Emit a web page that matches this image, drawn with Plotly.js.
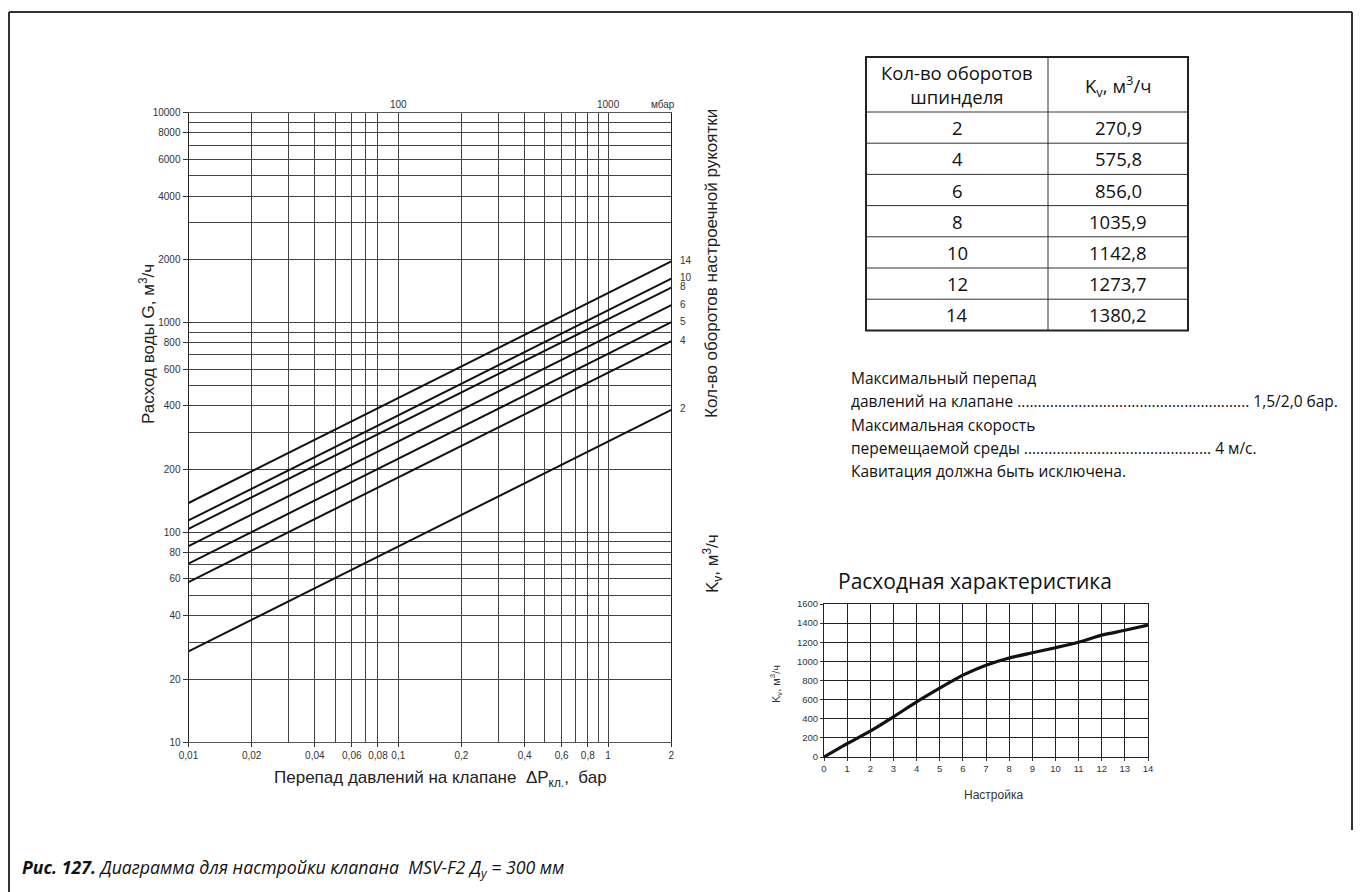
<!DOCTYPE html>
<html>
<head>
<meta charset="utf-8">
<script src="https://cdn.plot.ly/plotly-3.0.1.min.js"></script>
<style>
  html, body { margin: 0; padding: 0; background: #ffffff; }
  #chart { width: 1360px; height: 892px; }
</style>
</head>
<body>
<div id="chart"></div>
<script>
// ---- Main diagram: flow G vs pressure drop, one line per setting ----
const lineLabels = ['14', '10', '8', '6', '5', '4', '2'];
const dpStart = 0.01;              // bar, left end of lines
const dpEnd = 2;                   // bar, right end of lines
const gStart = [138, 114, 104, 86, 71, 58, 27.1];     // m3/h at 0.01 bar
const gEnd   = [1952, 1616, 1465, 1210, 1004, 814, 383]; // m3/h at 2 bar

const xTickVals = [0.01, 0.02, 0.04, 0.06, 0.08, 0.1, 0.2, 0.4, 0.6, 0.8, 1, 2];
const xTickText = ['0,01', '0,02', '0,04', '0,06', '0,08', '0,1', '0,2', '0,4', '0,6', '0,8', '1', '2'];
const xMinorVals = [0.03, 0.05, 0.07, 0.3, 0.5, 0.7, 0.9];
const yTickVals = [10, 20, 40, 60, 80, 100, 200, 400, 600, 800, 1000, 2000, 4000, 6000, 8000, 10000];
const yTickText = ['10', '20', '40', '60', '80', '100', '200', '400', '600', '800', '1000', '2000', '4000', '6000', '8000', '10000'];
const yMinorVals = [30, 50, 70, 90, 300, 500, 700, 900, 3000, 5000, 7000, 9000];

// top mbar scale labels
const mbarVals = [0.1, 1];
const mbarText = ['100', '1000'];

// ---- Table ----
const tableHeader = ['Кол-во оборотов<br>шпинделя', 'K<sub>v</sub>, м<sup>3</sup>/ч'];
const tableTurns = ['2', '4', '6', '8', '10', '12', '14'];
const tableKv = ['270,9', '575,8', '856,0', '1035,9', '1142,8', '1273,7', '1380,2'];

// ---- Small chart: flow characteristic ----
const setting = [0, 1, 2, 3, 4, 5, 6, 7, 8, 9, 10, 11, 12, 13, 14];
const kvCurve = [0, 140, 271, 420, 576, 720, 856, 960, 1036, 1090, 1143, 1200, 1274, 1325, 1380];
const smallXTicks = [0, 1, 2, 3, 4, 5, 6, 7, 8, 9, 10, 11, 12, 13, 14];
const smallYTicks = [0, 200, 400, 600, 800, 1000, 1200, 1400, 1600];

const W = 1360, H = 892;
const px = x => x / W;
const py = y => 1 - y / H;

const sansFont = 'Liberation Sans, Arial, sans-serif';
const textFont = 'Open Sans, Noto Sans, sans-serif';

const traces = [];
lineLabels.forEach((lab, i) => {
  traces.push({
    type: 'scatter', mode: 'lines',
    x: [dpStart, dpEnd], y: [gStart[i], gEnd[i]],
    xaxis: 'x', yaxis: 'y',
    line: { color: '#111', width: 2 },
    hoverinfo: 'skip', showlegend: false
  });
});
traces.push({
  type: 'scatter', mode: 'lines',
  x: setting, y: kvCurve,
  xaxis: 'x2', yaxis: 'y2',
  line: { color: '#111', width: 3.2, shape: 'spline', smoothing: 0.6 },
  hoverinfo: 'skip', showlegend: false
});

const annotations = [];
const shapes = [];

// line labels at the right end
lineLabels.forEach((lab, i) => {
  annotations.push({
    xref: 'x', yref: 'y',
    x: Math.log10(dpEnd), y: Math.log10(gEnd[i]),
    text: lab, showarrow: false,
    xanchor: 'left', yanchor: 'middle', xshift: 7, yshift: 1,
    font: { family: 'Liberation Sans Narrow, Liberation Sans, Arial', size: 10, color: '#333' }
  });
});
// mbar labels on top
mbarVals.forEach((v, i) => {
  annotations.push({
    xref: 'x', yref: 'paper', x: Math.log10(v), y: py(104),
    text: mbarText[i], showarrow: false, xanchor: 'center', yanchor: 'middle',
    font: { family: sansFont, size: 10, color: '#333' }
  });
});
annotations.push({
  xref: 'paper', yref: 'paper', x: px(663), y: py(104), text: 'мбар', showarrow: false,
  xanchor: 'center', yanchor: 'middle', font: { family: sansFont, size: 10, color: '#333' }
});
// axis titles
annotations.push({
  xref: 'paper', yref: 'paper', x: px(147), y: py(344), textangle: -90,
  text: 'Расход воды G, м<sup>3</sup>/ч', showarrow: false,
  xanchor: 'center', yanchor: 'middle', font: { family: sansFont, size: 17, color: '#222' }
});
annotations.push({
  xref: 'paper', yref: 'paper', x: px(440), y: py(779),
  text: 'Перепад давлений на клапане  ΔP<sub>кл.</sub>,  бар', showarrow: false,
  xanchor: 'center', yanchor: 'middle', font: { family: sansFont, size: 17, color: '#222' }
});
annotations.push({
  xref: 'paper', yref: 'paper', x: px(712), y: py(264), textangle: -90,
  text: 'Кол-во оборотов настроечной рукоятки', showarrow: false,
  xanchor: 'center', yanchor: 'middle', font: { family: sansFont, size: 17, color: '#222' }
});
annotations.push({
  xref: 'paper', yref: 'paper', x: px(712), y: py(564), textangle: -90,
  text: 'K<sub>v</sub>, м<sup>3</sup>/ч', showarrow: false,
  xanchor: 'center', yanchor: 'middle', font: { family: sansFont, size: 17, color: '#222' }
});

// ---- table drawn from the arrays ----
const tLeft = 866, tMid = 1048, tRight = 1188, tTop = 57, tHeadBottom = 112, rowH = 31.2;
const tBottom = tHeadBottom + rowH * tableTurns.length;
const tableFont = { family: textFont, size: 18.5, color: '#111' };
shapes.push({ type: 'rect', xref: 'paper', yref: 'paper', x0: px(tLeft), x1: px(tRight), y0: py(tTop), y1: py(tBottom), line: { color: '#222', width: 2 } });
shapes.push({ type: 'line', xref: 'paper', yref: 'paper', x0: px(tMid), x1: px(tMid), y0: py(tTop), y1: py(tBottom), line: { color: '#333', width: 1 } });
for (let i = 0; i < tableTurns.length; i++) {
  const yLine = tHeadBottom + rowH * i;
  shapes.push({ type: 'line', xref: 'paper', yref: 'paper', x0: px(tLeft), x1: px(tRight), y0: py(yLine), y1: py(yLine), line: { color: '#333', width: 1 } });
}
annotations.push({
  xref: 'paper', yref: 'paper', x: px((tLeft + tMid) / 2), y: py((tTop + tHeadBottom) / 2),
  text: tableHeader[0], showarrow: false, xanchor: 'center', yanchor: 'middle', align: 'center', font: tableFont
});
annotations.push({
  xref: 'paper', yref: 'paper', x: px((tMid + tRight) / 2), y: py((tTop + tHeadBottom) / 2 + 1),
  text: tableHeader[1], showarrow: false, xanchor: 'center', yanchor: 'middle', align: 'center', font: tableFont
});
tableTurns.forEach((t, i) => {
  const yc = tHeadBottom + rowH * (i + 0.5);
  annotations.push({
    xref: 'paper', yref: 'paper', x: px((tLeft + tMid) / 2), y: py(yc),
    text: t, showarrow: false, xanchor: 'center', yanchor: 'middle', font: tableFont
  });
  annotations.push({
    xref: 'paper', yref: 'paper', x: px((tMid + tRight) / 2), y: py(yc),
    text: tableKv[i], showarrow: false, xanchor: 'center', yanchor: 'middle', font: tableFont
  });
});

// notes text block
const noteLines = [
  'Максимальный перепад',
  'давлений на клапане ......................................................... 1,5/2,0 бар.',
  'Максимальная скорость',
  'перемещаемой среды .............................................. 4 м/с.',
  'Кавитация должна быть исключена.'
];
noteLines.forEach((t, i) => {
  annotations.push({
    xref: 'paper', yref: 'paper', x: px(849), y: py(378 + i * 23.3),
    text: t, showarrow: false, xanchor: 'left', yanchor: 'middle',
    font: { family: textFont, size: 15.5, color: '#111' }
  });
});
// small chart title and axis titles
annotations.push({
  xref: 'paper', yref: 'paper', x: px(975), y: py(581),
  text: 'Расходная характеристика', showarrow: false, xanchor: 'center', yanchor: 'middle',
  font: { family: textFont, size: 21, color: '#111' }
});
annotations.push({
  xref: 'paper', yref: 'paper', x: px(776), y: py(684), textangle: -90,
  text: 'K<sub>v</sub>, м<sup>3</sup>/ч', showarrow: false, xanchor: 'center', yanchor: 'middle',
  font: { family: sansFont, size: 11, color: '#333' }
});
annotations.push({
  xref: 'paper', yref: 'paper', x: px(994), y: py(795),
  text: 'Настройка', showarrow: false, xanchor: 'center', yanchor: 'middle',
  font: { family: sansFont, size: 12, color: '#333' }
});
// caption
annotations.push({
  xref: 'paper', yref: 'paper', x: px(20), y: py(868),
  text: '<b><i>Рис. 127.</i></b><i> Диаграмма для настройки клапана  MSV-F2 Д<sub>у</sub> = 300 мм</i>',
  showarrow: false, xanchor: 'left', yanchor: 'middle',
  font: { family: textFont, size: 17.7, color: '#111' }
});

// page frame
shapes.push({ type: 'line', xref: 'paper', yref: 'paper', x0: px(9), x1: px(1352), y0: py(12), y1: py(12), line: { color: '#333', width: 2 } });
shapes.push({ type: 'line', xref: 'paper', yref: 'paper', x0: px(9), x1: px(9), y0: py(12), y1: py(892), line: { color: '#333', width: 2 } });
shapes.push({ type: 'line', xref: 'paper', yref: 'paper', x0: px(1352), x1: px(1352), y0: py(12), y1: py(830), line: { color: '#333', width: 2 } });

const gridCol = '#444';
const layout = {
  width: W, height: H,
  margin: { l: 0, r: 0, t: 0, b: 0 },
  paper_bgcolor: '#ffffff', plot_bgcolor: 'rgba(0,0,0,0)',
  showlegend: false,
  xaxis: {
    type: 'log', domain: [px(188.5), px(671.3)], range: [-2, Math.log10(2)],
    anchor: 'y',
    tickmode: 'array', tickvals: xTickVals, ticktext: xTickText,
    ticks: 'outside', ticklen: 4, tickcolor: '#333',
    showgrid: true, gridcolor: gridCol, gridwidth: 1,
    minor: { tickmode: 'array', tickvals: xMinorVals, showgrid: true, gridcolor: gridCol, gridwidth: 1, ticks: '' },
    showline: true, linecolor: '#555', linewidth: 1, mirror: true,
    zeroline: false,
    tickfont: { family: sansFont, size: 10, color: '#333' }
  },
  yaxis: {
    type: 'log', domain: [py(742.3), py(112.5)], range: [1, 4],
    anchor: 'x',
    tickmode: 'array', tickvals: yTickVals, ticktext: yTickText,
    ticks: 'outside', ticklen: 5, tickcolor: '#333',
    showgrid: true, gridcolor: gridCol, gridwidth: 1,
    minor: { tickmode: 'array', tickvals: yMinorVals, showgrid: true, gridcolor: gridCol, gridwidth: 1, ticks: '' },
    showline: true, linecolor: '#222', linewidth: 1, mirror: true,
    zeroline: false,
    tickfont: { family: sansFont, size: 10, color: '#333' }
  },
  xaxis2: {
    domain: [px(824), px(1148)], range: [0, 14], anchor: 'y2',
    tickmode: 'array', tickvals: smallXTicks,
    ticks: 'outside', ticklen: 3, tickcolor: '#333',
    showgrid: true, gridcolor: '#222', gridwidth: 1,
    showline: true, linecolor: '#222', linewidth: 1, mirror: true,
    zeroline: false,
    tickfont: { family: sansFont, size: 9.5, color: '#333' }
  },
  yaxis2: {
    domain: [py(757), py(604)], range: [0, 1600], anchor: 'x2',
    tickmode: 'array', tickvals: smallYTicks,
    ticks: 'outside', ticklen: 3, tickcolor: '#333',
    showgrid: true, gridcolor: '#222', gridwidth: 1,
    showline: true, linecolor: '#222', linewidth: 1, mirror: true,
    zeroline: false,
    tickfont: { family: sansFont, size: 9.5, color: '#333' }
  },
  annotations: annotations,
  shapes: shapes
};

Plotly.newPlot('chart', traces, layout, { staticPlot: true, displayModeBar: false });
</script>
</body>
</html>
